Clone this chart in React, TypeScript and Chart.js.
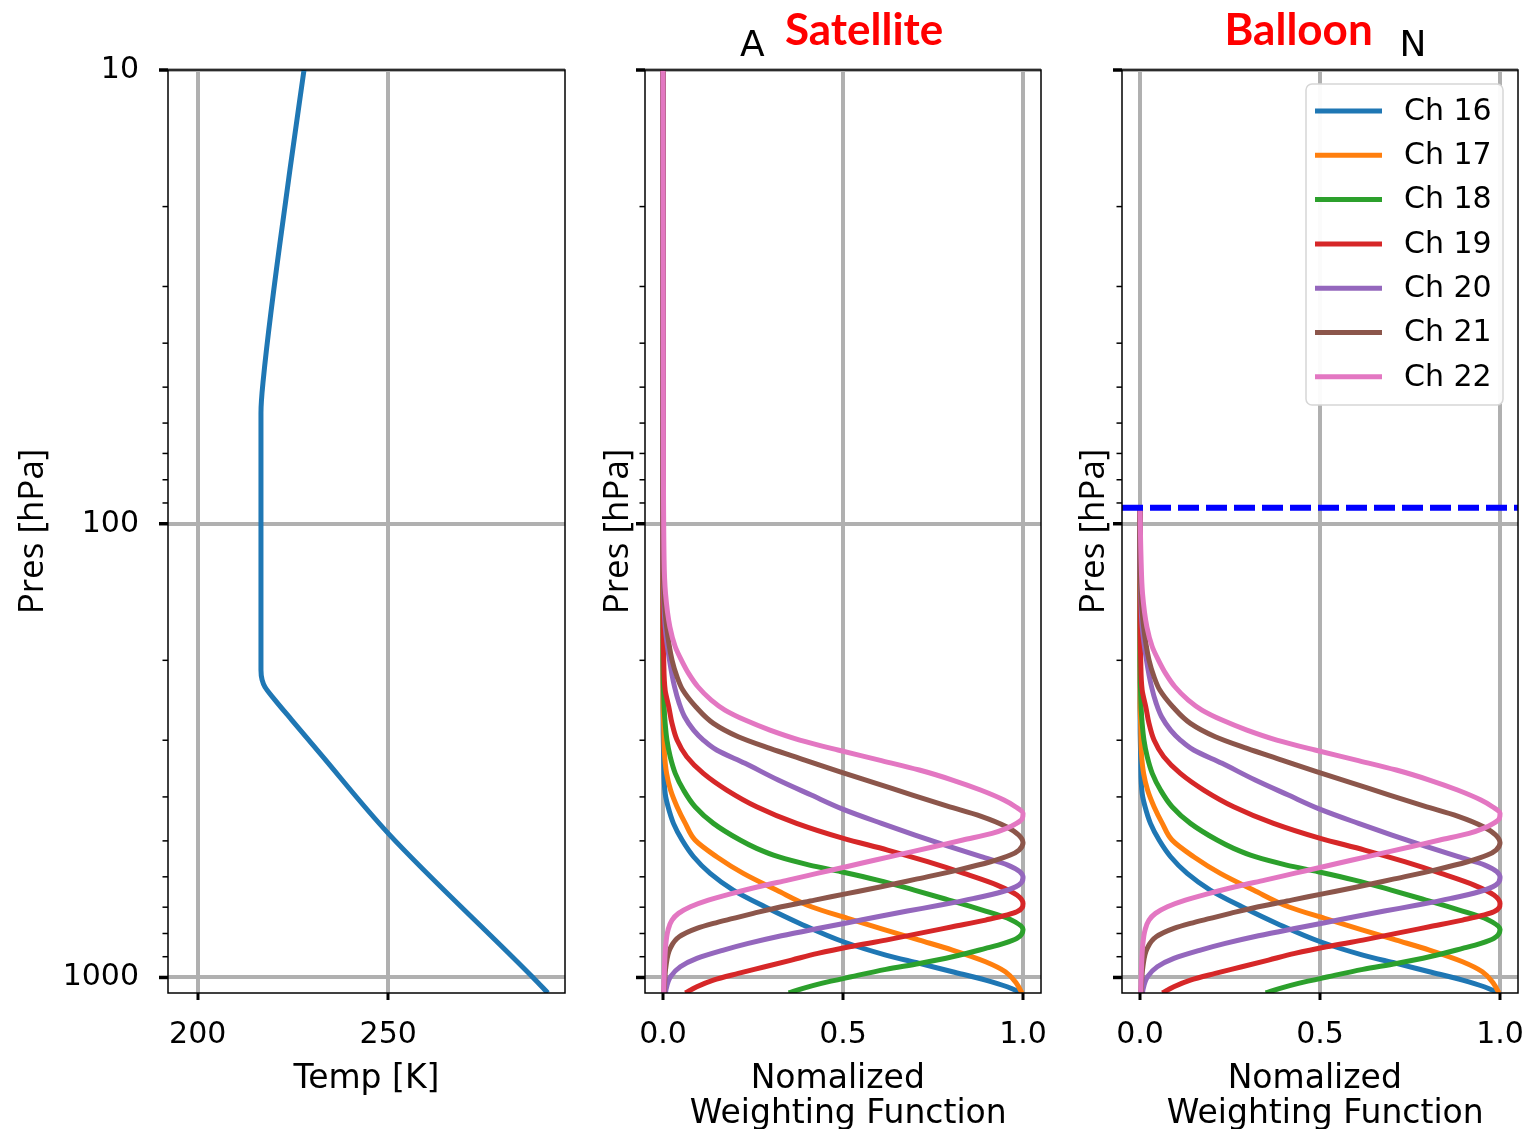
import React, { useEffect, useRef } from 'react';
import { Chart, registerables } from 'chart.js';

Chart.register(...registerables);

// ---------------- data ----------------
const P_MIN = 10;
const P_MAX = 1082;
const P_MAJOR_TICKS = [10, 100, 1000];
const P_MINOR_TICKS = [20, 30, 40, 50, 60, 70, 80, 90, 200, 300, 400, 500, 600, 700, 800, 900];

const TEMP_MIN = 192.2;
const TEMP_MAX = 296.4;
const TEMP_TICKS = [200, 250];

const WF_MIN = -0.05;
const WF_MAX = 1.05;
const WF_TICKS = [0, 0.5, 1.0];

// temperature profile (pressure hPa, temperature K)
const TEMP_P = [10, 16.6, 48.2, 57.0, 210.1, 221.0, 229.1, 244.7, 270.8, 320.7, 481.2, 1000, 1082];
const TEMP_K = [227.9, 224.2, 217.2, 216.6, 216.6, 216.9, 217.65, 220.3, 224.7, 232.1, 250.0, 288.0, 291.9];

// normalized weighting functions (pressure hPa, normalized weight)
const CH16_P = [10, 250, 331.8, 392.9, 420.4, 457.5, 497.9, 541.9, 589.7, 641.7, 698.4, 760.1, 834.2, 892.6, 931.2, 971.4, 1013.3, 1048.2, 1082];
const CH16_W = [0, 0, 0.002, 0.006, 0.014, 0.029, 0.053, 0.085, 0.131, 0.195, 0.283, 0.38, 0.501, 0.619, 0.712, 0.804, 0.896, 0.956, 0.997];

const CH17_P = [10, 250, 280.1, 320.7, 355.0, 386.3, 420.4, 457.5, 497.9, 541.9, 589.7, 641.7, 698.4, 741.0, 786.2, 827.2, 870.2, 923.3, 971.4, 1030.6, 1082];
const CH17_W = [0, 0, 0.002, 0.004, 0.01, 0.021, 0.039, 0.062, 0.089, 0.149, 0.223, 0.315, 0.412, 0.513, 0.619, 0.712, 0.804, 0.896, 0.951, 0.982, 0.997];

const CH18_P = [10, 200, 253.1, 275.4, 299.7, 326.2, 355.0, 386.3, 420.4, 457.5, 497.9, 519.4, 541.9, 565.3, 584.7, 610.0, 641.7, 675.2, 710.3, 744.8, 783.6, 820.2, 841.3, 862.9, 900.2, 931.2, 959.9, 996.3, 1030.6, 1057.1, 1082];
const CH18_W = [0, 0, 0.003, 0.006, 0.011, 0.02, 0.034, 0.057, 0.089, 0.14, 0.214, 0.26, 0.32, 0.407, 0.495, 0.596, 0.698, 0.794, 0.887, 0.965, 1.0, 0.983, 0.947, 0.896, 0.804, 0.712, 0.619, 0.523, 0.44, 0.389, 0.349];

const CH19_P = [10, 150, 199.7, 232.6, 253.1, 275.4, 299.7, 326.2, 355.0, 386.3, 420.4, 457.5, 493.7, 523.8, 555.8, 589.7, 625.7, 658.3, 686.7, 716.4, 747.3, 773.0, 799.6, 827.2, 855.6, 885.1, 915.5, 947.1, 979.6, 1013.3, 1048.2, 1082];
const CH19_W = [0, 0, 0.002, 0.006, 0.016, 0.025, 0.039, 0.066, 0.112, 0.177, 0.26, 0.371, 0.501, 0.624, 0.735, 0.836, 0.928, 0.983, 1.0, 0.983, 0.896, 0.804, 0.712, 0.619, 0.518, 0.43, 0.357, 0.283, 0.209, 0.14, 0.094, 0.062];

const CH20_P = [10, 120.2, 142.4, 168.6, 199.7, 228.7, 248.8, 266.3, 284.9, 299.7, 315.3, 337.4, 367.2, 396.3, 426.1, 457.5, 485.4, 513.3, 541.9, 565.3, 584.7, 602.8, 625.7, 647.2, 669.5, 692.5, 713.9, 734.8, 757.5, 780.9, 809.2, 841.3, 870.2, 907.8, 947.1, 996.3, 1066.1, 1082];
const CH20_W = [0, 0, 0.002, 0.006, 0.018, 0.032, 0.045, 0.06, 0.085, 0.112, 0.149, 0.228, 0.32, 0.412, 0.501, 0.607, 0.7, 0.792, 0.884, 0.958, 0.991, 1.0, 0.988, 0.942, 0.864, 0.771, 0.679, 0.596, 0.513, 0.426, 0.329, 0.237, 0.168, 0.094, 0.048, 0.021, 0.008, 0.007];

const CH21_P = [10, 120.2, 142.4, 168.6, 199.7, 217.4, 232.6, 253.1, 275.4, 294.7, 312.7, 331.8, 352.0, 373.5, 396.3, 419.0, 440.8, 465.3, 485.4, 504.7, 523.8, 537.3, 555.8, 579.8, 607.9, 631.0, 652.7, 675.2, 698.4, 722.4, 741.0, 760.1, 779.6, 813.3, 862.9, 947.1, 1082];
const CH21_W = [0, 0, 0.003, 0.01, 0.025, 0.039, 0.055, 0.091, 0.14, 0.209, 0.297, 0.394, 0.49, 0.592, 0.693, 0.79, 0.882, 0.954, 0.988, 1.0, 0.989, 0.965, 0.91, 0.818, 0.7, 0.606, 0.514, 0.421, 0.329, 0.251, 0.195, 0.14, 0.094, 0.045, 0.02, 0.008, 0.003];

const CH22_P = [10, 60, 120.2, 142.4, 168.6, 186.7, 199.7, 213.7, 228.7, 244.7, 257.4, 270.8, 284.9, 299.7, 315.3, 331.8, 349.0, 367.2, 386.3, 406.4, 420.4, 434.9, 446.1, 457.5, 469.3, 481.4, 497.9, 515.1, 532.8, 551.1, 570.1, 589.7, 610.0, 631.0, 652.7, 675.2, 698.4, 722.4, 747.3, 786.2, 841.3, 915.5, 1082];
const CH22_W = [0, 0.001, 0.003, 0.007, 0.019, 0.034, 0.051, 0.071, 0.097, 0.134, 0.172, 0.228, 0.297, 0.38, 0.486, 0.601, 0.712, 0.804, 0.882, 0.947, 0.979, 1.0, 0.998, 0.982, 0.954, 0.914, 0.833, 0.752, 0.671, 0.59, 0.509, 0.428, 0.347, 0.265, 0.193, 0.126, 0.076, 0.043, 0.025, 0.014, 0.008, 0.005, 0.002];

const CHANNEL_LABELS = ['Ch 16', 'Ch 17', 'Ch 18', 'Ch 19', 'Ch 20', 'Ch 21', 'Ch 22'];
const CHANNEL_P = [CH16_P, CH17_P, CH18_P, CH19_P, CH20_P, CH21_P, CH22_P];
const CHANNEL_W = [CH16_W, CH17_W, CH18_W, CH19_W, CH20_W, CH21_W, CH22_W];

const BALLOON_TOP_P = 92.2;

// ---------------- styles ----------------
const COLORS = ['#1f77b4', '#ff7f0e', '#2ca02c', '#d62728', '#9467bd', '#8c564b', '#e377c2'];
const GRID = '#b0b0b0';
const FONT = 'DejaVu Sans';
const CANVAS_H = 1136;
const X_AXIS_H = 143;

const toPts = (P: number[], X: number[]) => P.map((p, i) => ({ x: X[i], y: p }));
const balloonPts = (P: number[], X: number[]) => {
  const out = [{ x: 0, y: BALLOON_TOP_P }];
  P.forEach((p, i) => {
    if (p > BALLOON_TOP_P) out.push({ x: X[i], y: p });
  });
  return out;
};

const ALL_P_TICKS = [...P_MAJOR_TICKS, ...P_MINOR_TICKS].sort((a, b) => a - b);

function yScale(axisWidth: number, showLabels: boolean, titlePad: number) {
  return {
    type: 'logarithmic',
    min: P_MIN,
    max: P_MAX,
    reverse: true,
    bounds: 'data',
    afterFit: (s: any) => {
      s.width = axisWidth;
    },
    afterBuildTicks: (s: any) => {
      s.ticks = ALL_P_TICKS.map((v) => ({ value: v }));
    },
    grid: {
      color: (c: any) => (c.tick && P_MAJOR_TICKS.includes(c.tick.value) ? GRID : 'rgba(0,0,0,0)'),
      lineWidth: 4,
      drawTicks: false,
    },
    border: { display: false },
    ticks: {
      display: showLabels,
      autoSkip: false,
      maxRotation: 0,
      minRotation: 0,
      padding: 29,
      color: '#000',
      font: { family: FONT, size: 30 },
      callback: (v: any) => (P_MAJOR_TICKS.includes(Number(v)) ? String(v) : ''),
    },
    title: {
      display: true,
      text: 'Pres [hPa]',
      color: '#000',
      font: { family: 'Open Sans', size: 35, lineHeight: 1.0 },
      padding: { top: titlePad, bottom: 0 },
    },
  };
}

function xScale(min: number, max: number, ticks: number[], fmt: (v: number) => string, title: any, titlePadBottom: number) {
  return {
    type: 'linear',
    min,
    max,
    bounds: 'data',
    afterFit: (s: any) => {
      s.height = X_AXIS_H;
    },
    afterBuildTicks: (s: any) => {
      s.ticks = ticks.map((v) => ({ value: v }));
    },
    grid: {
      color: GRID,
      lineWidth: 4,
      drawTicks: true,
      tickLength: 7,
      tickWidth: 3,
      tickColor: '#000',
    },
    border: { display: false },
    ticks: {
      autoSkip: false,
      maxRotation: 0,
      minRotation: 0,
      padding: 17,
      color: '#000',
      font: { family: FONT, size: 30 },
      callback: (v: any) => fmt(Number(v)),
    },
    title: {
      display: true,
      text: title,
      color: '#000',
      font: { family: FONT, size: 33, lineHeight: 1.06 },
      padding: { top: 0, bottom: titlePadBottom },
    },
  };
}

const framePlugin = {
  id: 'frameTicks',
  afterDatasetsDraw(chart: any) {
    const { ctx, chartArea: a } = chart;
    const ys = chart.scales.y;
    ctx.save();
    ctx.strokeStyle = '#000';
    ALL_P_TICKS.forEach((v) => {
      const py = ys.getPixelForValue(v);
      const major = P_MAJOR_TICKS.includes(v);
      ctx.lineWidth = major ? 3.5 : 1.5;
      ctx.beginPath();
      ctx.moveTo(a.left - (major ? 9 : 5.5), py);
      ctx.lineTo(a.left, py);
      ctx.stroke();
    });
    ctx.lineWidth = 1.5;
    ctx.strokeRect(a.left, a.top, a.right - a.left, a.bottom - a.top);
    ctx.restore();
  },
};

const overlayText = (items: { text: string; dx: number; y: number; font: string; color: string }[]) => ({
  id: 'overlayText',
  afterDraw(chart: any) {
    const { ctx, chartArea: a } = chart;
    ctx.save();
    ctx.textAlign = 'left';
    ctx.textBaseline = 'alphabetic';
    items.forEach((t) => {
      ctx.font = t.font;
      ctx.fillStyle = t.color;
      ctx.fillText(t.text, a.left + t.dx, t.y);
    });
    ctx.restore();
  },
});

const legendPlugin = {
  id: 'boxLegend',
  afterDraw(chart: any) {
    const { ctx, chartArea: a } = chart;
    const bw = 197;
    const bh = 321;
    const bx = a.right - 15 - bw;
    const by = a.top + 14;
    ctx.save();
    ctx.beginPath();
    ctx.roundRect(bx, by, bw, bh, 6);
    ctx.fillStyle = 'rgba(255,255,255,0.95)';
    ctx.fill();
    ctx.lineWidth = 1.5;
    ctx.strokeStyle = '#d6d6d6';
    ctx.stroke();
    ctx.font = `30px "${FONT}"`;
    ctx.textBaseline = 'middle';
    ctx.textAlign = 'left';
    let row = 0;
    chart.data.datasets.forEach((ds: any) => {
      if (!CHANNEL_LABELS.includes(ds.label)) return;
      const y = by + 27 + row * 44.3;
      ctx.strokeStyle = ds.borderColor;
      ctx.lineWidth = 5;
      ctx.beginPath();
      ctx.moveTo(bx + 9, y);
      ctx.lineTo(bx + 76, y);
      ctx.stroke();
      ctx.fillStyle = '#000';
      ctx.fillText(ds.label, bx + 98, y + 1);
      row++;
    });
    ctx.restore();
  },
};

function channelDatasets(balloon: boolean) {
  return CHANNEL_LABELS.map((label, i) => ({
    label,
    data: balloon ? balloonPts(CHANNEL_P[i], CHANNEL_W[i]) : toPts(CHANNEL_P[i], CHANNEL_W[i]),
    borderColor: COLORS[i],
    backgroundColor: COLORS[i],
    borderWidth: 5,
    pointRadius: 0,
    fill: false,
    cubicInterpolationMode: 'monotone',
    order: CHANNEL_LABELS.length - 1 - i,
  }));
}

const baseOptions = (padRight: number, scales: any) => ({
  responsive: false,
  animation: false,
  devicePixelRatio: 1,
  indexAxis: 'y',
  events: [],
  layout: { padding: { left: 0, right: padRight, top: 70, bottom: 0 } },
  plugins: { legend: { display: false }, tooltip: { enabled: false }, title: { display: false } },
  scales,
});

export default function App() {
  const c1 = useRef<HTMLCanvasElement>(null);
  const c2 = useRef<HTMLCanvasElement>(null);
  const c3 = useRef<HTMLCanvasElement>(null);

  useEffect(() => {
    const wfTitle = ['Nomalized ', ' Weighting Function'];
    const fmtWF = (v: number) => v.toFixed(1);

    const chart1 = new Chart(c1.current as HTMLCanvasElement, {
      type: 'line',
      data: {
        datasets: [
          {
            label: 'Temp',
            data: toPts(TEMP_P, TEMP_K),
            borderColor: '#1f77b4',
            borderWidth: 5,
            pointRadius: 0,
            fill: false,
            cubicInterpolationMode: 'monotone',
          },
        ],
      },
      options: baseOptions(35, {
        x: xScale(TEMP_MIN, TEMP_MAX, TEMP_TICKS, (v) => String(v), 'Temp [K]', 39),
        y: yScale(168, true, 16),
      }) as any,
      plugins: [framePlugin],
    } as any);

    const chart2 = new Chart(c2.current as HTMLCanvasElement, {
      type: 'line',
      data: { datasets: channelDatasets(false) },
      options: baseOptions(36, {
        x: xScale(WF_MIN, WF_MAX, WF_TICKS, fmtWF, wfTitle, 4),
        y: yScale(45, false, 1),
      }) as any,
      plugins: [
        framePlugin,
        overlayText([
          { text: 'A', dx: 95, y: 56, font: `36px "${FONT}"`, color: '#000' },
          { text: 'Satellite', dx: 140, y: 45, font: 'bold 44px Lato', color: '#ff0000' },
        ]),
      ],
    } as any);

    const chart3 = new Chart(c3.current as HTMLCanvasElement, {
      type: 'line',
      data: {
        datasets: [
          ...channelDatasets(true),
          {
            label: 'Balloon top',
            data: [
              { x: WF_MIN, y: BALLOON_TOP_P },
              { x: WF_MAX, y: BALLOON_TOP_P },
            ],
            borderColor: '#0000ff',
            borderWidth: 6,
            borderDash: [21, 7],
            pointRadius: 0,
            fill: false,
            tension: 0,
            order: -1,
          },
        ],
      },
      options: baseOptions(41, {
        x: xScale(WF_MIN, WF_MAX, WF_TICKS, fmtWF, wfTitle, 4),
        y: yScale(45, false, 0),
      }) as any,
      plugins: [
        framePlugin,
        legendPlugin,
        overlayText([
          { text: 'N', dx: 277.5, y: 56, font: `36px "${FONT}"`, color: '#000' },
          { text: 'Balloon', dx: 102.5, y: 45, font: 'bold 44px Lato', color: '#ff0000' },
        ]),
      ],
    } as any);

    return () => {
      chart1.destroy();
      chart2.destroy();
      chart3.destroy();
    };
  }, []);

  return (
    <div style={{ position: 'absolute', left: 0, top: 0, width: 1529, height: 1129, background: '#fff', overflow: 'hidden' }}>
      <canvas ref={c1} width={600} height={CANVAS_H} style={{ position: 'absolute', left: 0, top: 0 }} />
      <canvas ref={c2} width={477} height={CANVAS_H} style={{ position: 'absolute', left: 600, top: 0 }} />
      <canvas ref={c3} width={482} height={CANVAS_H} style={{ position: 'absolute', left: 1077, top: 0 }} />
    </div>
  );
}
